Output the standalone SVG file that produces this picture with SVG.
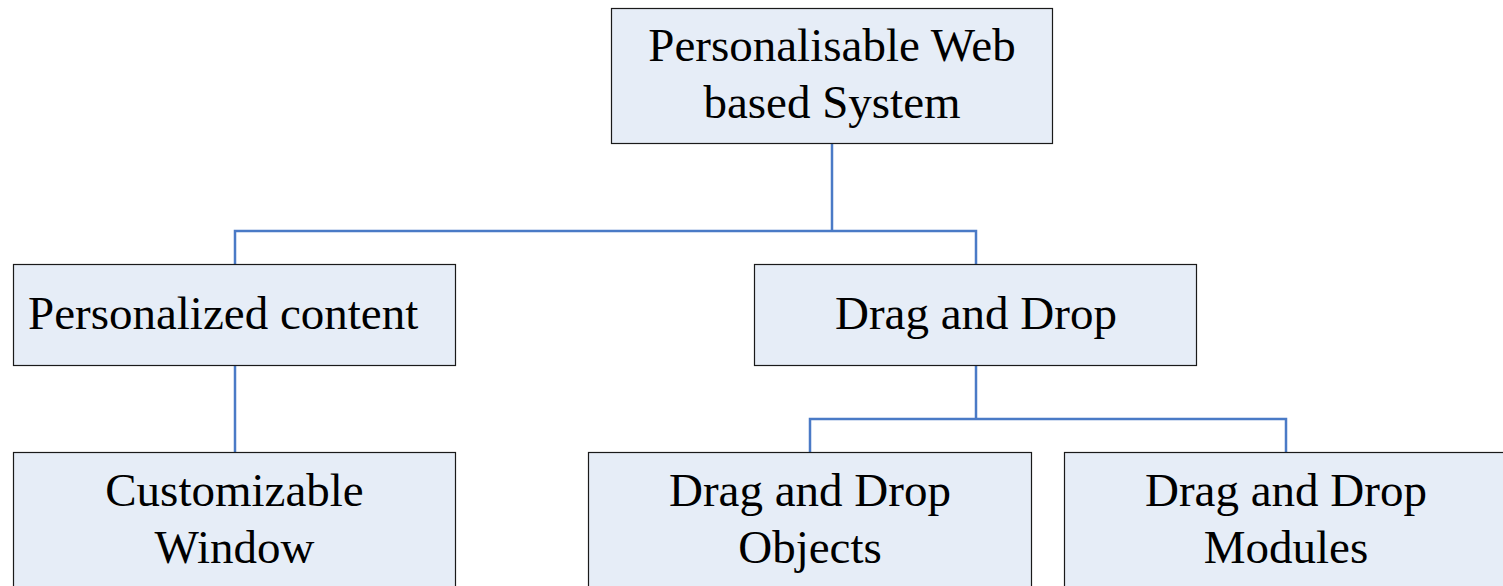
<svg xmlns="http://www.w3.org/2000/svg" width="1503" height="586" viewBox="0 0 1503 586">
<style>
.box{fill:#E6EDF7;stroke:#1a1a1a;stroke-width:1.2}
.t{font-family:"Liberation Serif","Times New Roman",serif;font-size:47px;fill:#000;text-anchor:middle}
.c{fill:none;stroke:#4A7AC6;stroke-width:2.5}
</style>
<rect width="1503" height="586" fill="#fff"/>
<g id="connectors">
<polyline class="c" points="832,144 832,231"/>
<polyline class="c" points="235,264 235,231 976,231 976,264"/>
<polyline class="c" points="235,366 235,452"/>
<polyline class="c" points="976,366 976,419"/>
<polyline class="c" points="810,452 810,419 1286,419 1286,452"/>
</g>
<g id="n-root">
<rect class="box" x="611.5" y="8.5" width="441" height="135"/>
<text class="t" x="832" y="61">Personalisable Web</text>
<text class="t" x="832" y="118">based System</text>
</g>
<g id="n-content">
<rect class="box" x="13.5" y="264.5" width="442" height="101"/>
<text class="t" x="28" y="329" style="text-anchor:start">Personalized content</text>
</g>
<g id="n-dnd">
<rect class="box" x="754.5" y="264.5" width="442" height="101"/>
<text class="t" x="976" y="329">Drag and Drop</text>
</g>
<g id="n-window">
<rect class="box" x="13.5" y="452.5" width="442" height="150"/>
<text class="t" x="234.5" y="506">Customizable</text>
<text class="t" x="234.5" y="563">Window</text>
</g>
<g id="n-objects">
<rect class="box" x="588.5" y="452.5" width="443" height="150"/>
<text class="t" x="810" y="506">Drag and Drop</text>
<text class="t" x="810" y="563">Objects</text>
</g>
<g id="n-modules">
<rect class="box" x="1064.5" y="452.5" width="443" height="150"/>
<text class="t" x="1286" y="506">Drag and Drop</text>
<text class="t" x="1286" y="563">Modules</text>
</g>
</svg>
